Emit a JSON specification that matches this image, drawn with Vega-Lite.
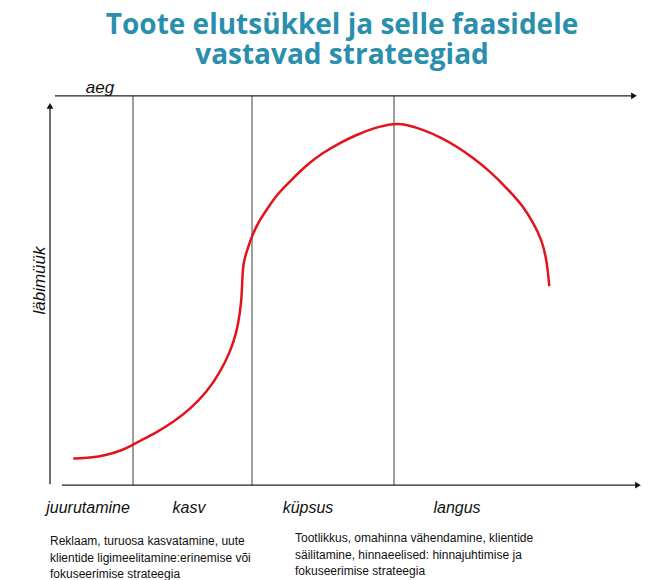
{
  "$schema": "https://vega.github.io/schema/vega-lite/v6.json",
  "autosize": {"type": "fit", "contains": "padding"},
  "width": 648,
  "height": 580,
  "padding": 0,
  "background": "white",
  "config": {"view": {"stroke": null}},
  "datasets": {
    "phases": [
      {"aeg": 133, "m": 484, "m2": 94},
      {"aeg": 252, "m": 484, "m2": 94},
      {"aeg": 394, "m": 484, "m2": 94}
    ],
    "axes": [
      {"aeg": 55, "aeg2": 634, "m": 484, "m2": 484},
      {"aeg": 50, "aeg2": 50, "m": 95, "m2": 474},
      {"aeg": 62, "aeg2": 638, "m": 94, "m2": 94}
    ],
    "arrowsRight": [{"aeg": 634, "m": 484}, {"aeg": 638, "m": 94}],
    "arrowsUp": [{"aeg": 50, "m": 474}],
    "curve": [
      {"i": 1, "aeg": 73.3, "m": 120.7},
      {"i": 2, "aeg": 90, "m": 121.3},
      {"i": 3, "aeg": 106.7, "m": 124},
      {"i": 4, "aeg": 123, "m": 129.3},
      {"i": 5, "aeg": 132.7, "m": 134.3},
      {"i": 6, "aeg": 140, "m": 138.3},
      {"i": 7, "aeg": 156.7, "m": 147},
      {"i": 8, "aeg": 173, "m": 157},
      {"i": 9, "aeg": 190, "m": 170},
      {"i": 10, "aeg": 206.7, "m": 187},
      {"i": 11, "aeg": 220, "m": 207},
      {"i": 12, "aeg": 230, "m": 227},
      {"i": 13, "aeg": 236.7, "m": 247},
      {"i": 14, "aeg": 240, "m": 267},
      {"i": 15, "aeg": 241.7, "m": 283.3},
      {"i": 16, "aeg": 242.3, "m": 300},
      {"i": 17, "aeg": 243.3, "m": 317},
      {"i": 18, "aeg": 246.7, "m": 328},
      {"i": 19, "aeg": 251.7, "m": 343},
      {"i": 20, "aeg": 258, "m": 357},
      {"i": 21, "aeg": 266.7, "m": 370},
      {"i": 22, "aeg": 276.7, "m": 385},
      {"i": 23, "aeg": 290, "m": 398.3},
      {"i": 24, "aeg": 306.7, "m": 415},
      {"i": 25, "aeg": 323, "m": 427},
      {"i": 26, "aeg": 340, "m": 437},
      {"i": 27, "aeg": 356.7, "m": 445},
      {"i": 28, "aeg": 373.3, "m": 451.7},
      {"i": 29, "aeg": 394.3, "m": 456.7},
      {"i": 30, "aeg": 406.7, "m": 455},
      {"i": 31, "aeg": 423.3, "m": 450},
      {"i": 32, "aeg": 440, "m": 442.7},
      {"i": 33, "aeg": 456.7, "m": 433.3},
      {"i": 34, "aeg": 473.3, "m": 421.7},
      {"i": 35, "aeg": 490, "m": 408.3},
      {"i": 36, "aeg": 506.7, "m": 391.7},
      {"i": 37, "aeg": 523.3, "m": 373.3},
      {"i": 38, "aeg": 533.3, "m": 356.7},
      {"i": 39, "aeg": 541.7, "m": 340},
      {"i": 40, "aeg": 546.7, "m": 320},
      {"i": 41, "aeg": 549.3, "m": 293.3}
    ],
    "phaseLabels": [
      {"aeg": 88, "m": 66, "label": "juurutamine"},
      {"aeg": 189, "m": 66, "label": "kasv"},
      {"aeg": 308, "m": 66, "label": "küpsus"},
      {"aeg": 457, "m": 66, "label": "langus"}
    ],
    "notes": [
      {"aeg": 50, "m": 34, "label": ["Reklaam, turuosa kasvatamine, uute", "klientide ligimeelitamine:erinemise või", "fokuseerimise strateegia"]},
      {"aeg": 295, "m": 37, "label": ["Tootlikkus, omahinna vähendamine, klientide", "säilitamine, hinnaeelised: hinnajuhtimise ja", "fokuseerimise strateegia"]}
    ],
    "titleLines": [
      {"aeg": 342, "m": 546, "label": ["Toote elutsükkel ja selle faasidele", "vastavad strateegiad"]}
    ]
  },
  "encoding": {
    "x": {"field": "aeg", "type": "quantitative", "scale": {"domain": [0, 648]}, "axis": null},
    "y": {"field": "m", "type": "quantitative", "scale": {"domain": [0, 580]}, "axis": null}
  },
  "layer": [
    {
      "data": {"name": "phases"},
      "mark": {"type": "rule", "color": "#6b6b6b", "strokeWidth": 1.3},
      "encoding": {"y2": {"field": "m2"}}
    },
    {
      "data": {"name": "axes"},
      "mark": {"type": "rule", "color": "#222222", "strokeWidth": 1.3},
      "encoding": {"x2": {"field": "aeg2"}, "y2": {"field": "m2"}}
    },
    {
      "data": {"name": "arrowsRight"},
      "mark": {"type": "point", "shape": "triangle-right", "filled": true, "color": "#111111", "size": 45, "opacity": 1}
    },
    {
      "data": {"name": "arrowsUp"},
      "mark": {"type": "point", "shape": "triangle-up", "filled": true, "color": "#111111", "size": 45, "opacity": 1}
    },
    {
      "data": {"name": "curve"},
      "mark": {"type": "line", "color": "#e3121b", "strokeWidth": 2.5, "interpolate": "basis"},
      "encoding": {"order": {"field": "i", "type": "quantitative"}}
    },
    {
      "data": {"values": [{"aeg": 100, "m": 487, "label": "aeg"}]},
      "mark": {"type": "text", "font": "Liberation Sans", "fontStyle": "italic", "fontSize": 17, "color": "#111111", "align": "center", "baseline": "alphabetic"},
      "encoding": {"text": {"field": "label"}}
    },
    {
      "data": {"values": [{"aeg": 40, "m": 299, "label": "läbimüük"}]},
      "mark": {"type": "text", "font": "Liberation Sans", "fontStyle": "italic", "fontSize": 17, "color": "#111111", "align": "center", "baseline": "middle", "angle": 270},
      "encoding": {"text": {"field": "label"}}
    },
    {
      "data": {"name": "phaseLabels"},
      "mark": {"type": "text", "font": "Liberation Sans", "fontStyle": "italic", "fontSize": 16, "color": "#111111", "align": "center", "baseline": "alphabetic"},
      "encoding": {"text": {"field": "label"}}
    },
    {
      "data": {"name": "notes"},
      "mark": {"type": "text", "font": "Liberation Sans", "fontSize": 12, "lineHeight": 16.5, "color": "#111111", "align": "left", "baseline": "alphabetic"},
      "encoding": {"text": {"field": "label"}}
    },
    {
      "data": {"name": "titleLines"},
      "mark": {"type": "text", "font": "Open Sans", "fontWeight": "bold", "fontSize": 28, "lineHeight": 30, "color": "#2a8fad", "align": "center", "baseline": "alphabetic"},
      "encoding": {"text": {"field": "label"}}
    }
  ]
}
